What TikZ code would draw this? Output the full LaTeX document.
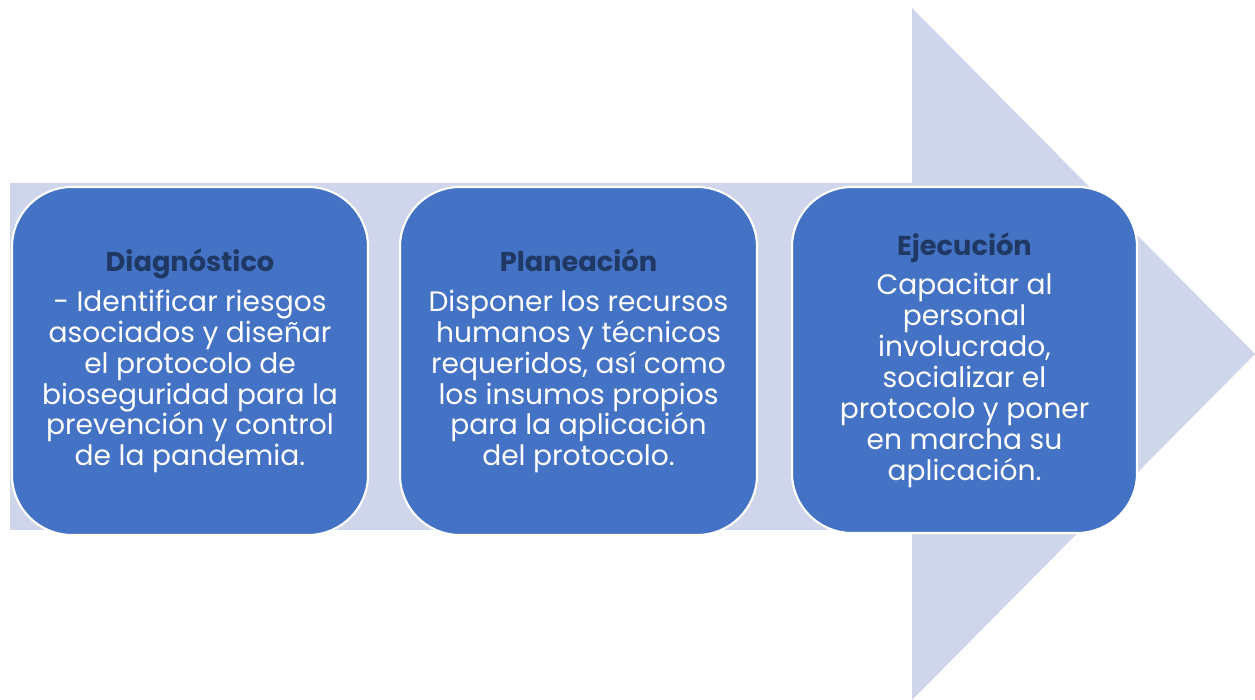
\documentclass[tikz,border=0pt]{standalone}
\usepackage{fontspec}
\setmainfont{Poppins}
\usetikzlibrary{positioning}
\definecolor{flecha}{HTML}{CFD5EA}
\definecolor{caja}{HTML}{4472C4}
\definecolor{titulo}{HTML}{1F3864}
\tikzset{ paso/.style={
         draw=white, line width=1.2pt, fill=caja,
         rounded corners=1.2cm, align=center, text=white,
         minimum height=6.96cm, inner sep=0pt,
         font=\fontsize{16}{17.6}\selectfont}}
\newcommand{\titulo}[1]{{\fontsize{15.5}{17.6}\selectfont\bfseries\color{titulo}#1}\\[5pt]}

\begin{document}
\begin{tikzpicture}[x=0.2mm, y=0.2mm]
\useasboundingbox (0,0) rectangle (1255,700);

% big arrow behind the boxes
\fill[flecha] (10,517) -- (912,517) -- (912,692) -- (1255,346)
  -- (912,0) -- (912,170) -- (10,170) -- cycle;

\node[paso, minimum width=7.12cm] (diag) at (190,339)
  {\titulo{Diagnóstico}- Identificar riesgos\\asociados y diseñar\\el protocolo de\\bioseguridad para la\\prevención y control\\de la pandemia.};
\node[paso, minimum width=7.14cm] (plan) at (578.5,339)
  {\titulo{Planeación} Disponer los recursos\\humanos y técnicos\\requeridos, así como\\los insumos propios\\para la aplicación\\del protocolo.};
\node[paso, minimum width=6.9cm, minimum height=6.92cm] (ejec) at (964.5,340)
  {\titulo{Ejecución}Capacitar al\\personal\\involucrado,\\socializar el\\protocolo y poner\\en marcha su\\aplicación.};

\end{tikzpicture}
\end{document}
